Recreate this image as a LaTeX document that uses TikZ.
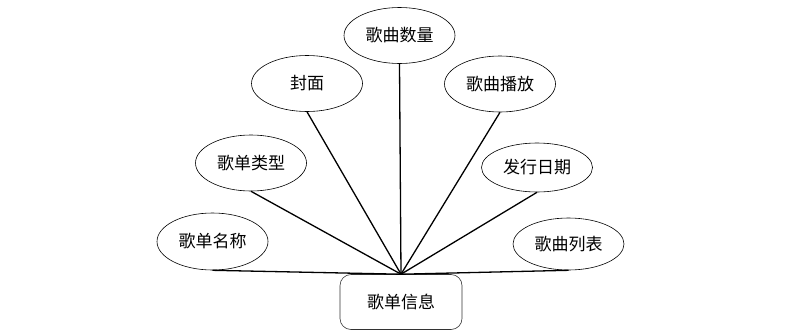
\documentclass[tikz,border=0pt]{standalone}
\usepackage{fontspec}
\newfontfamily\cjk{Noto Sans CJK SC}
\usetikzlibrary{shapes.geometric}

\begin{document}
\begin{tikzpicture}[
      x=1pt,y=-1pt,
      attr/.style={draw, ellipse, line width=0.6pt, inner sep=0pt, minimum width=111pt, minimum height=56pt, font=\cjk\fontsize{17}{20}\selectfont},
      entity/.style={draw=black!80, rounded corners=11pt, line width=0.6pt, inner sep=0pt, minimum width=122pt, minimum height=55pt, font=\cjk\fontsize{17}{20}\selectfont},
      link/.style={line width=1.3pt}
    ]
      \useasboundingbox (0,0) rectangle (805,335);
      \node[entity] (info) at (401,302) {歌单信息};
      \node[attr] (count) at (399.5,35.5) {歌曲数量};
      \node[attr] (cover) at (307,83.5) {封面};
      \node[attr] (play) at (500,84) {歌曲播放};
      \node[attr] (type) at (251,163) {歌单类型};
      \node[attr, minimum height=49pt] (date) at (537,167.5) {发行日期};
      \node[attr, minimum height=57pt] (name) at (212.5,241.5) {歌单名称};
      \node[attr, minimum height=52pt] (songs) at (568.5,244) {歌曲列表};
      \foreach \a in {count,cover,play,type,date,name,songs}
        \draw[link] (\a.south) -- (info.north);
    \end{tikzpicture}
\end{document}
